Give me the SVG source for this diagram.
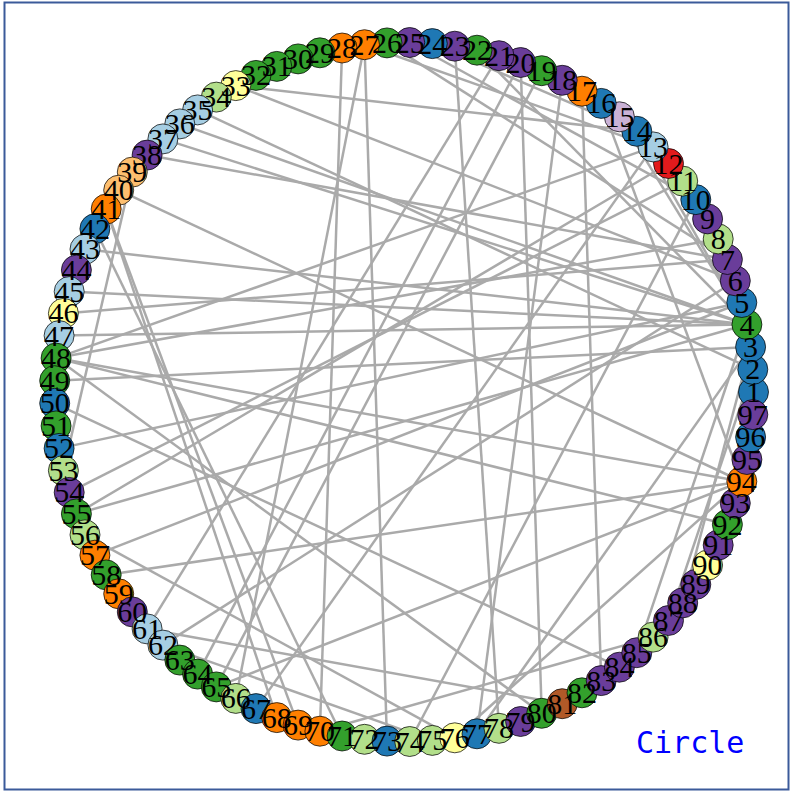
<svg xmlns="http://www.w3.org/2000/svg" width="792" height="794" viewBox="0 0 792 794">
<style>
.e{stroke:#aaaaaa;stroke-width:2.5;fill:none}
.n{stroke:#000;stroke-width:0.9;stroke-opacity:0.8}
.lb{fill:#a6cee3}.db{fill:#1f78b4}.lg{fill:#b2df8a}.g{fill:#33a02c}.r{fill:#e31a1c}.lo{fill:#fdbf6f}.o{fill:#ff7f00}.lp{fill:#cab2d6}.p{fill:#6a3d9a}.y{fill:#ffff99}.br{fill:#b15928}
.t{font-family:"Liberation Serif","Times New Roman",serif;font-size:30px;fill:#000;text-anchor:middle}
.title{font-family:"DejaVu Sans Mono","Liberation Mono",monospace;font-size:30px;fill:#0000ff}
</style>
<rect x="0" y="0" width="792" height="794" fill="#ffffff"/>
<rect x="4.5" y="2.5" width="784" height="787" fill="none" stroke="#3b5a9a" stroke-width="2"/>
<g id="edges">
<line class="e" x1="364.5" y1="44.7" x2="387.0" y2="741.1"/>
<line class="e" x1="342.1" y1="48.0" x2="319.9" y2="731.2"/>
<line class="e" x1="582.0" y1="91.2" x2="601.2" y2="680.6"/>
<line class="e" x1="520.6" y1="62.5" x2="541.7" y2="713.3"/>
<line class="e" x1="106.2" y1="209.1" x2="276.8" y2="717.6"/>
<line class="e" x1="106.2" y1="209.1" x2="298.1" y2="725.1"/>
<line class="e" x1="94.9" y1="228.8" x2="342.1" y2="736.0"/>
<line class="e" x1="132.3" y1="172.1" x2="63.4" y2="470.6"/>
<line class="e" x1="69.2" y1="291.6" x2="746.9" y2="324.5"/>
<line class="e" x1="63.4" y1="313.4" x2="727.4" y2="259.5"/>
<line class="e" x1="56.1" y1="358.1" x2="718.2" y2="238.9"/>
<line class="e" x1="56.1" y1="358.1" x2="741.8" y2="481.5"/>
<line class="e" x1="56.1" y1="358.1" x2="727.4" y2="524.5"/>
<line class="e" x1="56.1" y1="358.1" x2="541.7" y2="713.3"/>
<line class="e" x1="54.7" y1="380.7" x2="750.6" y2="346.9"/>
<line class="e" x1="54.7" y1="403.3" x2="619.4" y2="667.2"/>
<line class="e" x1="59.1" y1="448.4" x2="741.8" y2="302.5"/>
<line class="e" x1="69.2" y1="492.4" x2="682.7" y2="181.1"/>
<line class="e" x1="76.4" y1="513.9" x2="746.9" y2="324.5"/>
<line class="e" x1="85.0" y1="534.8" x2="454.8" y2="737.8"/>
<line class="e" x1="147.1" y1="628.9" x2="562.2" y2="703.7"/>
<line class="e" x1="162.9" y1="645.1" x2="432.3" y2="740.4"/>
<line class="e" x1="216.3" y1="686.9" x2="741.8" y2="481.5"/>
<line class="e" x1="653.1" y1="146.9" x2="256.0" y2="708.6"/>
<line class="e" x1="364.5" y1="44.7" x2="235.8" y2="698.4"/>
<line class="e" x1="409.7" y1="741.5" x2="695.8" y2="199.6"/>
<line class="e" x1="454.8" y1="737.8" x2="741.8" y2="481.5"/>
<line class="e" x1="477.0" y1="733.8" x2="750.6" y2="346.9"/>
<line class="e" x1="477.0" y1="733.8" x2="562.2" y2="80.3"/>
<line class="e" x1="319.9" y1="731.2" x2="653.1" y2="637.1"/>
<line class="e" x1="179.8" y1="123.9" x2="746.9" y2="324.5"/>
<line class="e" x1="162.9" y1="138.9" x2="746.9" y2="324.5"/>
<line class="e" x1="85.0" y1="249.2" x2="746.9" y2="324.5"/>
<line class="e" x1="59.1" y1="335.6" x2="746.9" y2="324.5"/>
<line class="e" x1="636.8" y1="652.7" x2="746.9" y2="324.5"/>
<line class="e" x1="636.8" y1="131.3" x2="746.9" y2="324.5"/>
<line class="e" x1="619.4" y1="116.8" x2="746.9" y2="324.5"/>
<line class="e" x1="118.7" y1="190.2" x2="741.8" y2="481.5"/>
<line class="e" x1="601.2" y1="103.4" x2="741.8" y2="481.5"/>
<line class="e" x1="653.1" y1="146.9" x2="56.1" y2="358.1"/>
<line class="e" x1="668.5" y1="163.5" x2="76.4" y2="513.9"/>
<line class="e" x1="235.8" y1="85.6" x2="636.8" y2="131.3"/>
<line class="e" x1="387.0" y1="42.9" x2="727.4" y2="259.5"/>
<line class="e" x1="409.7" y1="42.5" x2="695.8" y2="199.6"/>
<line class="e" x1="364.5" y1="44.7" x2="653.1" y2="146.9"/>
<line class="e" x1="432.3" y1="43.6" x2="636.8" y2="131.3"/>
<line class="e" x1="499.0" y1="55.7" x2="147.1" y2="628.9"/>
<line class="e" x1="520.6" y1="62.5" x2="197.6" y2="674.1"/>
<line class="e" x1="541.7" y1="70.7" x2="216.3" y2="686.9"/>
<line class="e" x1="162.9" y1="645.1" x2="735.3" y2="280.8"/>
<line class="e" x1="197.6" y1="109.9" x2="752.8" y2="369.4"/>
<line class="e" x1="147.1" y1="155.1" x2="727.4" y2="259.5"/>
<line class="e" x1="235.8" y1="85.6" x2="735.3" y2="280.8"/>
<line class="e" x1="477.0" y1="50.2" x2="746.9" y2="324.5"/>
<line class="e" x1="454.8" y1="46.2" x2="499.0" y2="728.3"/>
<line class="e" x1="668.5" y1="620.5" x2="752.8" y2="369.4"/>
<line class="e" x1="682.7" y1="602.9" x2="750.6" y2="346.9"/>
<line class="e" x1="94.9" y1="555.2" x2="741.8" y2="302.5"/>
<line class="e" x1="106.2" y1="574.9" x2="741.8" y2="481.5"/>
</g>
<g id="nodes">
<g id="node1"><circle class="n db" cx="753.5" cy="392.0" r="15"/></g>
<g id="node2"><circle class="n db" cx="752.8" cy="369.4" r="15"/></g>
<g id="node3"><circle class="n db" cx="750.6" cy="346.9" r="15"/></g>
<g id="node4"><circle class="n g" cx="746.9" cy="324.5" r="15"/></g>
<g id="node5"><circle class="n db" cx="741.8" cy="302.5" r="15"/></g>
<g id="node6"><circle class="n p" cx="735.3" cy="280.8" r="15"/></g>
<g id="node7"><circle class="n p" cx="727.4" cy="259.5" r="15"/></g>
<g id="node8"><circle class="n lg" cx="718.2" cy="238.9" r="15"/></g>
<g id="node9"><circle class="n p" cx="707.6" cy="218.9" r="15"/></g>
<g id="node10"><circle class="n db" cx="695.8" cy="199.6" r="15"/></g>
<g id="node11"><circle class="n lg" cx="682.7" cy="181.1" r="15"/></g>
<g id="node12"><circle class="n r" cx="668.5" cy="163.5" r="15"/></g>
<g id="node13"><circle class="n lb" cx="653.1" cy="146.9" r="15"/></g>
<g id="node14"><circle class="n db" cx="636.8" cy="131.3" r="15"/></g>
<g id="node15"><circle class="n lp" cx="619.4" cy="116.8" r="15"/></g>
<g id="node16"><circle class="n db" cx="601.2" cy="103.4" r="15"/></g>
<g id="node17"><circle class="n o" cx="582.0" cy="91.2" r="15"/></g>
<g id="node18"><circle class="n p" cx="562.2" cy="80.3" r="15"/></g>
<g id="node19"><circle class="n g" cx="541.7" cy="70.7" r="15"/></g>
<g id="node20"><circle class="n p" cx="520.6" cy="62.5" r="15"/></g>
<g id="node21"><circle class="n p" cx="499.0" cy="55.7" r="15"/></g>
<g id="node22"><circle class="n g" cx="477.0" cy="50.2" r="15"/></g>
<g id="node23"><circle class="n p" cx="454.8" cy="46.2" r="15"/></g>
<g id="node24"><circle class="n db" cx="432.3" cy="43.6" r="15"/></g>
<g id="node25"><circle class="n p" cx="409.7" cy="42.5" r="15"/></g>
<g id="node26"><circle class="n g" cx="387.0" cy="42.9" r="15"/></g>
<g id="node27"><circle class="n o" cx="364.5" cy="44.7" r="15"/></g>
<g id="node28"><circle class="n o" cx="342.1" cy="48.0" r="15"/></g>
<g id="node29"><circle class="n g" cx="319.9" cy="52.8" r="15"/></g>
<g id="node30"><circle class="n g" cx="298.1" cy="58.9" r="15"/></g>
<g id="node31"><circle class="n g" cx="276.8" cy="66.4" r="15"/></g>
<g id="node32"><circle class="n g" cx="256.0" cy="75.4" r="15"/></g>
<g id="node33"><circle class="n y" cx="235.8" cy="85.6" r="15"/></g>
<g id="node34"><circle class="n lg" cx="216.3" cy="97.1" r="15"/></g>
<g id="node35"><circle class="n lb" cx="197.6" cy="109.9" r="15"/></g>
<g id="node36"><circle class="n lb" cx="179.8" cy="123.9" r="15"/></g>
<g id="node37"><circle class="n lb" cx="162.9" cy="138.9" r="15"/></g>
<g id="node38"><circle class="n p" cx="147.1" cy="155.1" r="15"/></g>
<g id="node39"><circle class="n lo" cx="132.3" cy="172.1" r="15"/></g>
<g id="node40"><circle class="n lo" cx="118.7" cy="190.2" r="15"/></g>
<g id="node41"><circle class="n o" cx="106.2" cy="209.1" r="15"/></g>
<g id="node42"><circle class="n db" cx="94.9" cy="228.8" r="15"/></g>
<g id="node43"><circle class="n lb" cx="85.0" cy="249.2" r="15"/></g>
<g id="node44"><circle class="n p" cx="76.4" cy="270.1" r="15"/></g>
<g id="node45"><circle class="n lb" cx="69.2" cy="291.6" r="15"/></g>
<g id="node46"><circle class="n y" cx="63.4" cy="313.4" r="15"/></g>
<g id="node47"><circle class="n lb" cx="59.1" cy="335.6" r="15"/></g>
<g id="node48"><circle class="n g" cx="56.1" cy="358.1" r="15"/></g>
<g id="node49"><circle class="n g" cx="54.7" cy="380.7" r="15"/></g>
<g id="node50"><circle class="n db" cx="54.7" cy="403.3" r="15"/></g>
<g id="node51"><circle class="n g" cx="56.1" cy="425.9" r="15"/></g>
<g id="node52"><circle class="n db" cx="59.1" cy="448.4" r="15"/></g>
<g id="node53"><circle class="n lg" cx="63.4" cy="470.6" r="15"/></g>
<g id="node54"><circle class="n p" cx="69.2" cy="492.4" r="15"/></g>
<g id="node55"><circle class="n g" cx="76.4" cy="513.9" r="15"/></g>
<g id="node56"><circle class="n lg" cx="85.0" cy="534.8" r="15"/></g>
<g id="node57"><circle class="n o" cx="94.9" cy="555.2" r="15"/></g>
<g id="node58"><circle class="n g" cx="106.2" cy="574.9" r="15"/></g>
<g id="node59"><circle class="n o" cx="118.7" cy="593.8" r="15"/></g>
<g id="node60"><circle class="n p" cx="132.3" cy="611.9" r="15"/></g>
<g id="node61"><circle class="n lb" cx="147.1" cy="628.9" r="15"/></g>
<g id="node62"><circle class="n lb" cx="162.9" cy="645.1" r="15"/></g>
<g id="node63"><circle class="n g" cx="179.8" cy="660.1" r="15"/></g>
<g id="node64"><circle class="n g" cx="197.6" cy="674.1" r="15"/></g>
<g id="node65"><circle class="n g" cx="216.3" cy="686.9" r="15"/></g>
<g id="node66"><circle class="n lg" cx="235.8" cy="698.4" r="15"/></g>
<g id="node67"><circle class="n db" cx="256.0" cy="708.6" r="15"/></g>
<g id="node68"><circle class="n o" cx="276.8" cy="717.6" r="15"/></g>
<g id="node69"><circle class="n o" cx="298.1" cy="725.1" r="15"/></g>
<g id="node70"><circle class="n o" cx="319.9" cy="731.2" r="15"/></g>
<g id="node71"><circle class="n g" cx="342.1" cy="736.0" r="15"/></g>
<g id="node72"><circle class="n lg" cx="364.5" cy="739.3" r="15"/></g>
<g id="node73"><circle class="n db" cx="387.0" cy="741.1" r="15"/></g>
<g id="node74"><circle class="n lg" cx="409.7" cy="741.5" r="15"/></g>
<g id="node75"><circle class="n lg" cx="432.3" cy="740.4" r="15"/></g>
<g id="node76"><circle class="n y" cx="454.8" cy="737.8" r="15"/></g>
<g id="node77"><circle class="n db" cx="477.0" cy="733.8" r="15"/></g>
<g id="node78"><circle class="n lg" cx="499.0" cy="728.3" r="15"/></g>
<g id="node79"><circle class="n p" cx="520.6" cy="721.5" r="15"/></g>
<g id="node80"><circle class="n g" cx="541.7" cy="713.3" r="15"/></g>
<g id="node81"><circle class="n br" cx="562.2" cy="703.7" r="15"/></g>
<g id="node82"><circle class="n g" cx="582.0" cy="692.8" r="15"/></g>
<g id="node83"><circle class="n p" cx="601.2" cy="680.6" r="15"/></g>
<g id="node84"><circle class="n p" cx="619.4" cy="667.2" r="15"/></g>
<g id="node85"><circle class="n p" cx="636.8" cy="652.7" r="15"/></g>
<g id="node86"><circle class="n lg" cx="653.1" cy="637.1" r="15"/></g>
<g id="node87"><circle class="n p" cx="668.5" cy="620.5" r="15"/></g>
<g id="node88"><circle class="n p" cx="682.7" cy="602.9" r="15"/></g>
<g id="node89"><circle class="n p" cx="695.8" cy="584.4" r="15"/></g>
<g id="node90"><circle class="n y" cx="707.6" cy="565.1" r="15"/></g>
<g id="node91"><circle class="n p" cx="718.2" cy="545.1" r="15"/></g>
<g id="node92"><circle class="n g" cx="727.4" cy="524.5" r="15"/></g>
<g id="node93"><circle class="n p" cx="735.3" cy="503.2" r="15"/></g>
<g id="node94"><circle class="n o" cx="741.8" cy="481.5" r="15"/></g>
<g id="node95"><circle class="n p" cx="746.9" cy="459.5" r="15"/></g>
<g id="node96"><circle class="n db" cx="750.6" cy="437.1" r="15"/></g>
<g id="node97"><circle class="n p" cx="752.8" cy="414.6" r="15"/></g>
</g>
<g id="labels">
<text class="t" x="753.5" y="402.0">1</text>
<text class="t" x="752.8" y="379.4">2</text>
<text class="t" x="750.6" y="356.9">3</text>
<text class="t" x="746.9" y="334.5">4</text>
<text class="t" x="741.8" y="312.5">5</text>
<text class="t" x="735.3" y="290.8">6</text>
<text class="t" x="727.4" y="269.5">7</text>
<text class="t" x="718.2" y="248.9">8</text>
<text class="t" x="707.6" y="228.9">9</text>
<text class="t" x="695.8" y="209.6">10</text>
<text class="t" x="682.7" y="191.1">11</text>
<text class="t" x="668.5" y="173.5">12</text>
<text class="t" x="653.1" y="156.9">13</text>
<text class="t" x="636.8" y="141.3">14</text>
<text class="t" x="619.4" y="126.8">15</text>
<text class="t" x="601.2" y="113.4">16</text>
<text class="t" x="582.0" y="101.2">17</text>
<text class="t" x="562.2" y="90.3">18</text>
<text class="t" x="541.7" y="80.7">19</text>
<text class="t" x="520.6" y="72.5">20</text>
<text class="t" x="499.0" y="65.7">21</text>
<text class="t" x="477.0" y="60.2">22</text>
<text class="t" x="454.8" y="56.2">23</text>
<text class="t" x="432.3" y="53.6">24</text>
<text class="t" x="409.7" y="52.5">25</text>
<text class="t" x="387.0" y="52.9">26</text>
<text class="t" x="364.5" y="54.7">27</text>
<text class="t" x="342.1" y="58.0">28</text>
<text class="t" x="319.9" y="62.8">29</text>
<text class="t" x="298.1" y="68.9">30</text>
<text class="t" x="276.8" y="76.4">31</text>
<text class="t" x="256.0" y="85.4">32</text>
<text class="t" x="235.8" y="95.6">33</text>
<text class="t" x="216.3" y="107.1">34</text>
<text class="t" x="197.6" y="119.9">35</text>
<text class="t" x="179.8" y="133.9">36</text>
<text class="t" x="162.9" y="148.9">37</text>
<text class="t" x="147.1" y="165.1">38</text>
<text class="t" x="132.3" y="182.1">39</text>
<text class="t" x="118.7" y="200.2">40</text>
<text class="t" x="106.2" y="219.1">41</text>
<text class="t" x="94.9" y="238.8">42</text>
<text class="t" x="85.0" y="259.2">43</text>
<text class="t" x="76.4" y="280.1">44</text>
<text class="t" x="69.2" y="301.6">45</text>
<text class="t" x="63.4" y="323.4">46</text>
<text class="t" x="59.1" y="345.6">47</text>
<text class="t" x="56.1" y="368.1">48</text>
<text class="t" x="54.7" y="390.7">49</text>
<text class="t" x="54.7" y="413.3">50</text>
<text class="t" x="56.1" y="435.9">51</text>
<text class="t" x="59.1" y="458.4">52</text>
<text class="t" x="63.4" y="480.6">53</text>
<text class="t" x="69.2" y="502.4">54</text>
<text class="t" x="76.4" y="523.9">55</text>
<text class="t" x="85.0" y="544.8">56</text>
<text class="t" x="94.9" y="565.2">57</text>
<text class="t" x="106.2" y="584.9">58</text>
<text class="t" x="118.7" y="603.8">59</text>
<text class="t" x="132.3" y="621.9">60</text>
<text class="t" x="147.1" y="638.9">61</text>
<text class="t" x="162.9" y="655.1">62</text>
<text class="t" x="179.8" y="670.1">63</text>
<text class="t" x="197.6" y="684.1">64</text>
<text class="t" x="216.3" y="696.9">65</text>
<text class="t" x="235.8" y="708.4">66</text>
<text class="t" x="256.0" y="718.6">67</text>
<text class="t" x="276.8" y="727.6">68</text>
<text class="t" x="298.1" y="735.1">69</text>
<text class="t" x="319.9" y="741.2">70</text>
<text class="t" x="342.1" y="746.0">71</text>
<text class="t" x="364.5" y="749.3">72</text>
<text class="t" x="387.0" y="751.1">73</text>
<text class="t" x="409.7" y="751.5">74</text>
<text class="t" x="432.3" y="750.4">75</text>
<text class="t" x="454.8" y="747.8">76</text>
<text class="t" x="477.0" y="743.8">77</text>
<text class="t" x="499.0" y="738.3">78</text>
<text class="t" x="520.6" y="731.5">79</text>
<text class="t" x="541.7" y="723.3">80</text>
<text class="t" x="562.2" y="713.7">81</text>
<text class="t" x="582.0" y="702.8">82</text>
<text class="t" x="601.2" y="690.6">83</text>
<text class="t" x="619.4" y="677.2">84</text>
<text class="t" x="636.8" y="662.7">85</text>
<text class="t" x="653.1" y="647.1">86</text>
<text class="t" x="668.5" y="630.5">87</text>
<text class="t" x="682.7" y="612.9">88</text>
<text class="t" x="695.8" y="594.4">89</text>
<text class="t" x="707.6" y="575.1">90</text>
<text class="t" x="718.2" y="555.1">91</text>
<text class="t" x="727.4" y="534.5">92</text>
<text class="t" x="735.3" y="513.2">93</text>
<text class="t" x="741.8" y="491.5">94</text>
<text class="t" x="746.9" y="469.5">95</text>
<text class="t" x="750.6" y="447.1">96</text>
<text class="t" x="752.8" y="424.6">97</text>
</g>
<text class="title" x="636" y="753">Circle</text>
</svg>
